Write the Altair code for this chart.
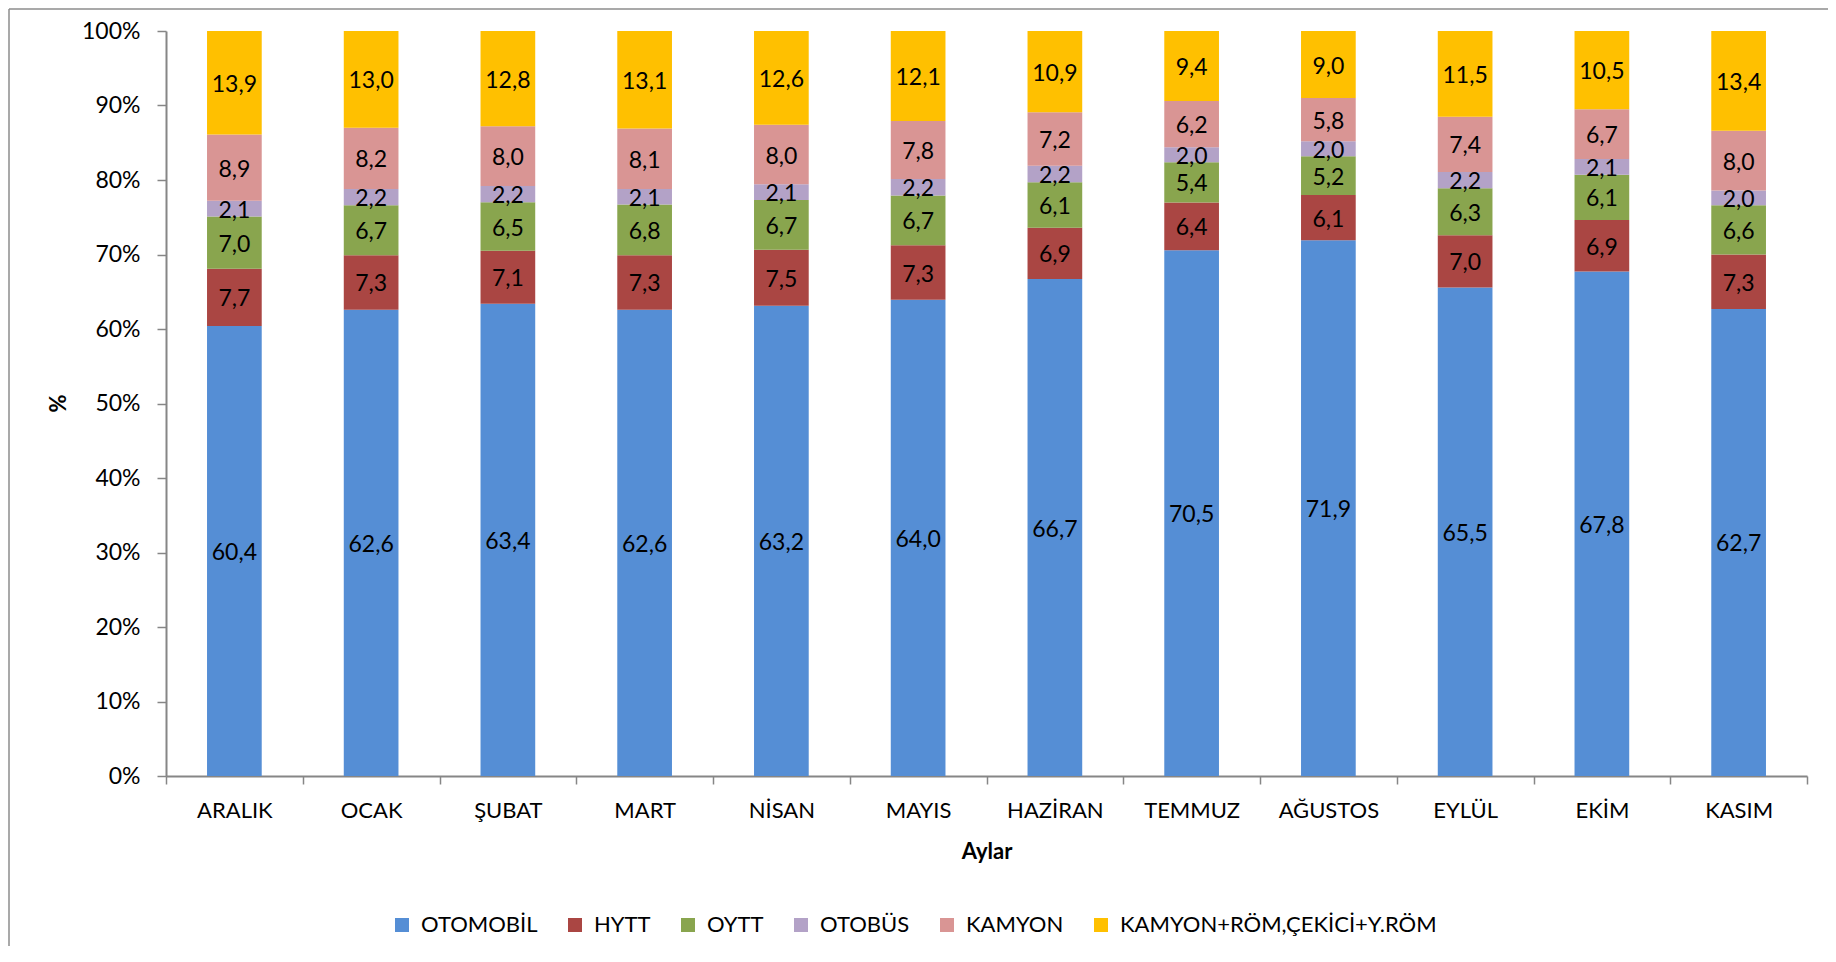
import altair as alt
import pandas as pd

months = ["ARALIK", "OCAK", "ŞUBAT", "MART", "NİSAN", "MAYIS",
          "HAZİRAN", "TEMMUZ", "AĞUSTOS", "EYLÜL", "EKİM", "KASIM"]
series = ["OTOMOBİL", "HYTT", "OYTT", "OTOBÜS", "KAMYON", "KAMYON+RÖM,ÇEKİCİ+Y.RÖM"]
colors = ["#558ED5", "#AA4643", "#89A54E", "#B3A2C7", "#D99594", "#FFC000"]

otomobil = [60.4, 62.6, 63.4, 62.6, 63.2, 64.0, 66.7, 70.5, 71.9, 65.5, 67.8, 62.7]
hytt     = [7.7, 7.3, 7.1, 7.3, 7.5, 7.3, 6.9, 6.4, 6.1, 7.0, 6.9, 7.3]
oytt     = [7.0, 6.7, 6.5, 6.8, 6.7, 6.7, 6.1, 5.4, 5.2, 6.3, 6.1, 6.6]
otobus   = [2.1, 2.2, 2.2, 2.1, 2.1, 2.2, 2.2, 2.0, 2.0, 2.2, 2.1, 2.0]
kamyon   = [8.9, 8.2, 8.0, 8.1, 8.0, 7.8, 7.2, 6.2, 5.8, 7.4, 6.7, 8.0]
kamyon_rom = [13.9, 13.0, 12.8, 13.1, 12.6, 12.1, 10.9, 9.4, 9.0, 11.5, 10.5, 13.4]

y_ticks = [0, 0.1, 0.2, 0.3, 0.4, 0.5, 0.6, 0.7, 0.8, 0.9, 1.0]

all_values = [otomobil, hytt, oytt, otobus, kamyon, kamyon_rom]
rows = []
for si, (name, vals) in enumerate(zip(series, all_values)):
    for mi, (m, v) in enumerate(zip(months, vals)):
        rows.append({"month": m, "series": name, "order": si, "value": v,
                     "label": f"{v:.1f}".replace(".", ",")})
df = pd.DataFrame(rows)

FONT = "Lato"
GRAY = "#868686"

base = alt.Chart(df).transform_stack(
    stack="value", groupby=["month"],
    sort=[alt.SortField("order", order="ascending")],
    as_=["y0", "y1"], offset="normalize"
).transform_calculate(ymid="(datum.y0 + datum.y1) / 2")

x_enc = alt.X("month:N", sort=months,
              scale=alt.Scale(paddingInner=0, paddingOuter=0),
              axis=alt.Axis(title="Aylar", tickBand="extent", labelAngle=0,
                            tickSize=8, labelPadding=16,
                            titleY=65, titleBaseline="top"))

bars = base.mark_bar(width={"band": 0.4}).encode(
    x=x_enc,
    y=alt.Y("y0:Q", scale=alt.Scale(domain=[0, 1], nice=False),
            axis=alt.Axis(title="%", values=y_ticks, format=".0%", tickSize=9,
                          labelPadding=17, labelFontSize=23,
                          titleX=-108, titleY=372,
                          titleAngle=-90, titleAlign="center",
                          titleBaseline="middle")),
    y2="y1:Q",
    color=alt.Color("series:N", scale=alt.Scale(domain=series, range=colors),
                    legend=alt.Legend(title=None, orient="none", legendX=225,
                                      legendY=883, direction="horizontal",
                                      symbolType="square", symbolSize=196,
                                      symbolStrokeWidth=0, labelOffset=8,
                                      columnPadding=26, padding=0, labelLimit=0,
                                      labelFont=FONT, labelFontSize=22,
                                      labelColor="black")),
    order=alt.Order("order:Q", sort="ascending"),
)

texts = base.mark_text(font=FONT, fontSize=23, color="black", dy=2,
                       baseline="middle", align="center").encode(
    x=alt.X("month:N", sort=months),
    y=alt.Y("ymid:Q"),
    text="label:N",
)

frame_df = pd.DataFrame({"k": [0]})
top_line = alt.Chart(frame_df).mark_rule(color="#8c8c8c", strokeWidth=1.5).encode(
    x=alt.value(-157), x2=alt.value(1662), y=alt.value(-22))
left_line = alt.Chart(frame_df).mark_rule(color="#8c8c8c", strokeWidth=1.5).encode(
    x=alt.value(-157), y=alt.value(-22), y2=alt.value(940))

chart = alt.layer(bars, texts, top_line, left_line).properties(
    width=1641, height=745,
    autosize=alt.AutoSizeParams(type="none"),
    padding={"left": 158, "top": 23, "right": 21, "bottom": 170},
).configure_view(stroke=None).configure_axis(
    grid=False, domainColor=GRAY, domainWidth=2, tickColor=GRAY, tickWidth=1.5,
    labelFont=FONT, labelFontSize=22, labelColor="black",
    titleFont=FONT, titleFontSize=22, titleFontWeight="bold", titleColor="black",
)

chart.save("out.html", embed_options={"renderer": "svg", "actions": False})
